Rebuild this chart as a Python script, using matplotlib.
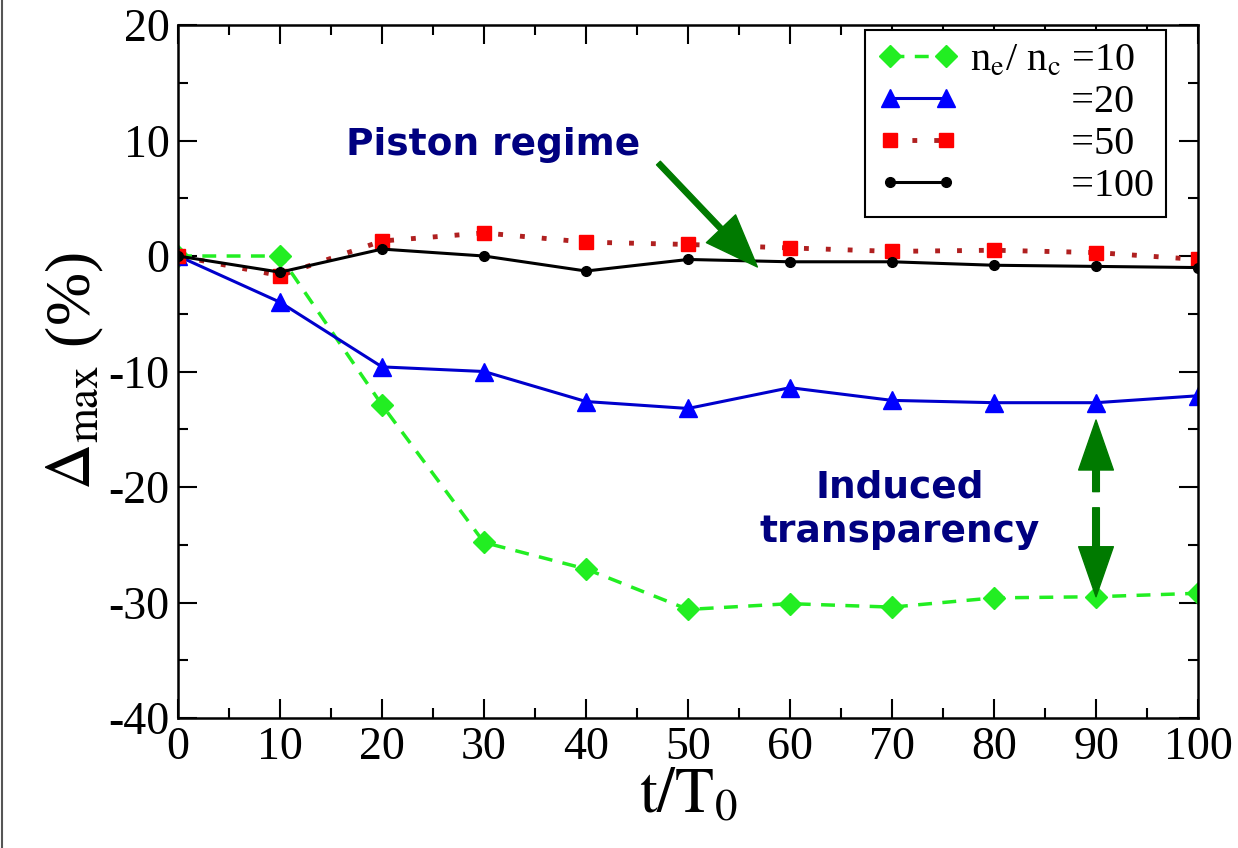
import matplotlib
matplotlib.use("Agg")
import matplotlib.pyplot as plt
from matplotlib.lines import Line2D
from matplotlib.ticker import MultipleLocator

plt.rcParams['font.family'] = ['Liberation Serif', 'DejaVu Serif']
plt.rcParams['mathtext.fontset'] = 'stix'
plt.rcParams['axes.unicode_minus'] = False

t = [0, 10, 20, 30, 40, 50, 60, 70, 80, 90, 100]
d10 = [0, 0, -12.9, -24.8, -27.1, -30.6, -30.1, -30.4, -29.6, -29.5, -29.2]
d20 = [0, -4.0, -9.6, -10.0, -12.6, -13.2, -11.4, -12.5, -12.7, -12.7, -12.1]
d50 = [0, -1.7, 1.3, 2.0, 1.2, 1.0, 0.7, 0.4, 0.5, 0.3, -0.3]
d100 = [0, -1.4, 0.6, 0.0, -1.3, -0.3, -0.5, -0.5, -0.8, -0.9, -1.0]

fig = plt.figure(figsize=(12.38, 8.48), dpi=100)
ax = fig.add_axes([0.1438, 0.1533, 0.8239, 0.8172])

ax.plot(t, d10, color='#22ee22', ls=(0, (4, 3)), lw=2.5, marker='D', ms=11,
        label=r'n$_\mathrm{e}$/ n$_\mathrm{c}$ =10')
ax.plot(t, d20, color='#0000cc', ls='-', lw=2.2, marker='^', ms=13,
        mfc='#0000ff', mec='#0000ff', label='          =20')
ax.plot(t, d50, color='#b02020', ls=(0, (1, 3.5)), lw=3.5, marker='s', ms=10,
        mfc='#ff0000', mec='#ff0000', label='          =50')
ax.plot(t, d100, color='black', ls='-', lw=2.2, marker='o', ms=7,
        label='          =100')

ax.set_xlim(0, 100)
ax.set_ylim(-40, 20)
ax.xaxis.set_major_locator(MultipleLocator(10))
ax.xaxis.set_minor_locator(MultipleLocator(5))
ax.yaxis.set_major_locator(MultipleLocator(10))
ax.yaxis.set_minor_locator(MultipleLocator(5))
ax.tick_params(which='both', direction='in', top=True, right=True, width=1.5)
ax.tick_params(which='major', length=14, labelsize=33, pad=6)
ax.tick_params(which='minor', length=7)
for s in ax.spines.values():
    s.set_linewidth(1.8)

ax.set_xlabel(r'$\mathrm{t/T_0}$', fontsize=46, labelpad=0)
ax.set_ylabel(r'$\Delta_{\mathrm{max}}$ (%)', fontsize=46, labelpad=2)

leg = ax.legend(loc='upper left', bbox_to_anchor=(0.674, 0.993),
                fontsize=29, frameon=True, fancybox=False, framealpha=1,
                edgecolor='black', numpoints=2, handlelength=2.0,
                handletextpad=0.3, borderpad=0.3, labelspacing=0.12,
                borderaxespad=0)
leg.get_frame().set_linewidth(1.5)

ann_color = '#000080'
ax.text(30.9, 9.6, 'Piston regime', color=ann_color, fontsize=27,
        fontweight='bold', family='DejaVu Sans', ha='center', va='center')
ax.text(70.8, -22.0, 'Induced\ntransparency', color=ann_color, fontsize=27,
        fontweight='bold', family='DejaVu Sans', ha='center', va='center',
        linespacing=1.3)

arrow = dict(arrowstyle='simple,head_length=1.9,head_width=1.45,tail_width=0.19',
             color='#007a00', mutation_scale=20, shrinkA=0, shrinkB=0)
ax.annotate('', xy=(56.8, -0.95), xytext=(47.1, 8.05), arrowprops=arrow)
arrow2 = dict(arrowstyle='simple,head_length=1.8,head_width=1.25,tail_width=0.24',
              color='#007a00', mutation_scale=20, shrinkA=0, shrinkB=0)
ax.annotate('', xy=(90, -14.2), xytext=(90, -20.4), arrowprops=arrow2)
ax.annotate('', xy=(90, -29.5), xytext=(90, -21.8), arrowprops=arrow2)

fig.add_artist(Line2D([0.002, 0.002], [0, 1], color='#555555', lw=1.5,
                      transform=fig.transFigure))

fig.savefig('out.png', dpi=100)
